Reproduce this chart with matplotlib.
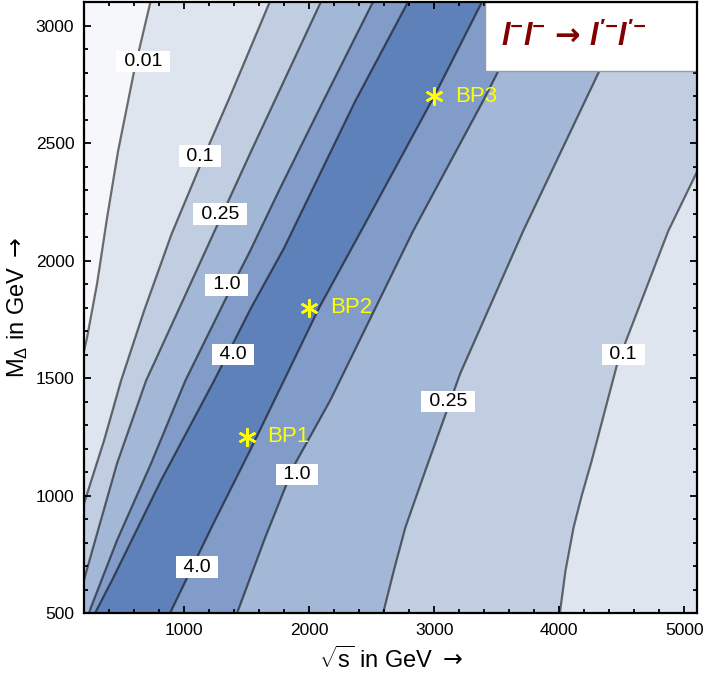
import matplotlib.pyplot as plt
from matplotlib.patches import Rectangle
from matplotlib.ticker import MultipleLocator

plt.rcParams['font.family'] = ['Liberation Sans', 'DejaVu Sans']
plt.rcParams['mathtext.fontset'] = 'custom'
plt.rcParams['mathtext.rm'] = 'Liberation Sans'
plt.rcParams['mathtext.it'] = 'Liberation Sans:italic'
plt.rcParams['mathtext.sf'] = 'DejaVu Sans'
plt.rcParams['mathtext.bf'] = 'DejaVu Sans:bold'
plt.rcParams['mathtext.bfit'] = 'Liberation Sans:italic:bold'

# contour lines: sqrt(s) [GeV] vs M_Delta [GeV], top -> bottom
c001_left_s = [778, 728, 600, 472, 384, 304, 224, 200, 160, -200]
c001_left_m = [3200, 3094, 2805, 2465, 2181, 1901, 1672, 1616, 1500, 400]
c001_right_s = [5400, 5400]
c001_right_m = [3200, 400]

c01_left_s = [1764, 1680, 1368, 1160, 900, 680, 496, 360, 200, 150, -200]
c01_left_m = [3200, 3094, 2699, 2444, 2113, 1786, 1489, 1234, 967, 900, 400]
c01_right_s = [5500, 5104, 4872, 4464, 4260, 4180, 4115, 4050, 4005, 3990]
c01_right_m = [2780, 2380, 2126, 1561, 1149, 1000, 865, 680, 500, 400]

c025_left_s = [2181, 2088, 1536, 1281, 989, 696, 464, 260, 215, 70]
c025_left_m = [3200, 3094, 2465, 2169, 1829, 1489, 1137, 755, 670, 400]
c025_right_s = [4714, 4608, 4312, 3712, 3208, 2930, 2770, 2678, 2592, 2550]
c025_right_m = [3200, 3094, 2797, 2126, 1519, 1107, 865, 682, 500, 400]

c1_left_s = [2604, 2504, 2112, 1768, 1528, 1352, 1010, 736, 464, 256, 240, 167]
c1_left_m = [3200, 3094, 2678, 2308, 2041, 1858, 1489, 1137, 810, 525, 500, 400]
c1_right_s = [3900, 3504, 3390, 2832, 2168, 1880, 1650, 1424, 1350]
c1_right_m = [3200, 2797, 2678, 2126, 1404, 1128, 823, 500, 400]

c4_left_s = [2890, 2784, 2368, 1800, 1536, 1240, 816, 424, 288, 190]
c4_left_m = [3200, 3094, 2678, 2054, 1799, 1489, 1065, 640, 500, 400]
c4_right_s = [3479, 3376, 3000, 2416, 2080, 1760, 1540, 1220, 900, 800]
c4_right_m = [3200, 3094, 2699, 2126, 1799, 1447, 1205, 865, 513, 400]

band_colors = ['#dfe5ef', '#c1cee2', '#a3b7d7', '#819cc9', '#5f81b9']

# contour labels
label_text = ['0.01', '0.1', '0.25', '1.0', '4.0', '4.0', '1.0', '0.25', '0.1']
label_s = [672, 1128, 1288, 1340, 1390, 1104, 1904, 3112, 4512]
label_m = [2847, 2444, 2198, 1897, 1600, 695, 1090, 1400, 1600]

# benchmark points
bp_names = ['BP1', 'BP2', 'BP3']
bp_s = [1500, 2000, 3000]
bp_m = [1250, 1800, 2700]

fig = plt.figure(figsize=(7.06, 6.85), dpi=100)
ax = fig.add_axes([0.119, 0.105, 0.868, 0.892])
ax.set_facecolor('#f6f7fa')

contours = [
    (c001_left_s, c001_left_m, c001_right_s, c001_right_m, False),
    (c01_left_s, c01_left_m, c01_right_s, c01_right_m, True),
    (c025_left_s, c025_left_m, c025_right_s, c025_right_m, True),
    (c1_left_s, c1_left_m, c1_right_s, c1_right_m, True),
    (c4_left_s, c4_left_m, c4_right_s, c4_right_m, True),
]

# filled bands, each level on top of the previous one
for (ls, lm, rs, rm, has_right), col in zip(contours, band_colors):
    xs = ls + rs[::-1]
    ys = lm + rm[::-1]
    ax.fill(xs, ys, color=col, lw=0, zorder=1)

# contour lines
for ls, lm, rs, rm, has_right in contours:
    ax.plot(ls, lm, color='k', alpha=0.55, lw=1.6, zorder=2, solid_joinstyle='round')
    if has_right:
        ax.plot(rs, rm, color='k', alpha=0.55, lw=1.6, zorder=2, solid_joinstyle='round')

for t, s, m in zip(label_text, label_s, label_m):
    ax.text(s, m, ' ' + t + ' ', fontsize=14, ha='center', va='center', zorder=4,
            bbox=dict(boxstyle='square,pad=0.12', fc='white', ec='none'))

ax.plot(bp_s, bp_m, ls='none', marker=(6, 2, 0), ms=13, mew=1.8, color='#ffff00', zorder=5)
for name, s, m in zip(bp_names, bp_s, bp_m):
    ax.annotate(name, (s, m), xytext=(15, 0), textcoords='offset points',
                ha='left', va='center', fontsize=16, color='#ffff00', zorder=5)

# process box in the upper right corner
ax.add_patch(Rectangle((0.655, 0.887), 0.345, 0.113, transform=ax.transAxes,
                       fc='white', ec='#999999', lw=1, zorder=6))
ax.text(0.80, 0.943, r"$\mathbfit{l^{-}l^{-}}\,\mathbf{\rightarrow}\,\mathbfit{l'^{-}l'^{-}}$",
        transform=ax.transAxes, fontsize=22, color='#800000',
        ha='center', va='center', zorder=7)

ax.set_xlim(200, 5100)
ax.set_ylim(500, 3100)
ax.xaxis.set_major_locator(MultipleLocator(1000))
ax.xaxis.set_minor_locator(MultipleLocator(200))
ax.yaxis.set_major_locator(MultipleLocator(500))
ax.yaxis.set_minor_locator(MultipleLocator(100))
ax.tick_params(which='both', direction='in', top=True, right=True, labelsize=12.5, width=1.3)
ax.tick_params(which='major', length=5, pad=7)
ax.tick_params(which='minor', length=3)
for sp in ax.spines.values():
    sp.set_linewidth(1.6)
    sp.set_zorder(8)

ax.set_xlabel(r"$\sqrt{\mathrm{s}}$ in GeV $\mathsf{\rightarrow}$", fontsize=17, labelpad=6)
ax.set_ylabel(r"M$_{\Delta}$ in GeV $\mathsf{\rightarrow}$", fontsize=17, labelpad=4)

fig.savefig('out.png', dpi=100)
